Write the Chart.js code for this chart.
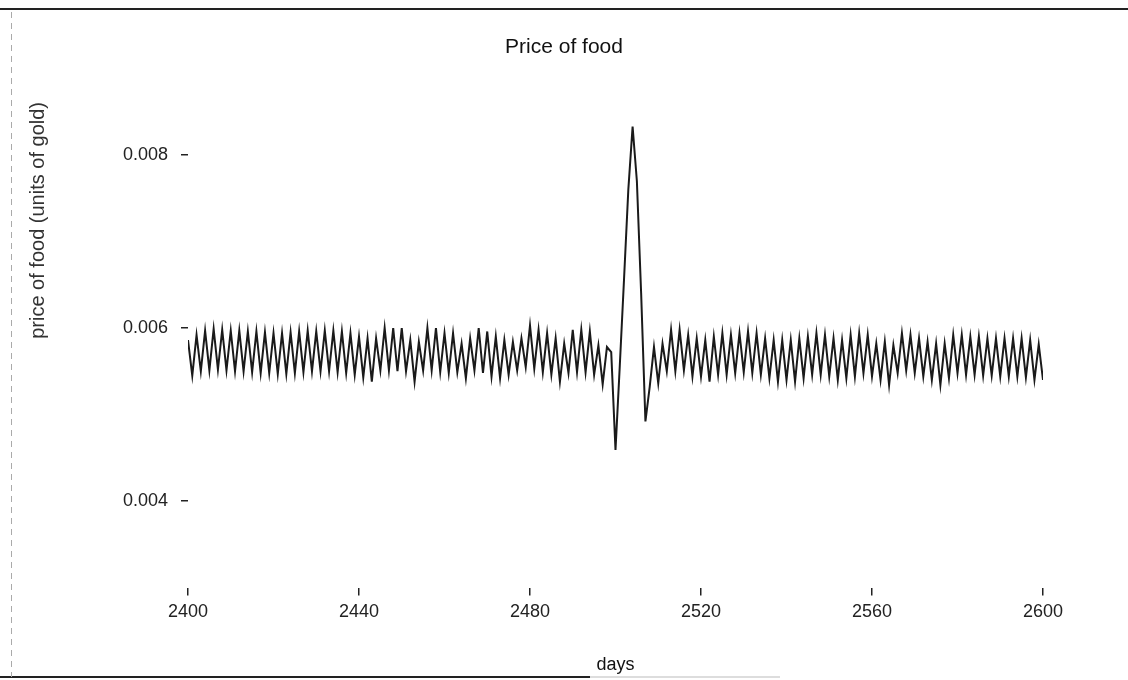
<!DOCTYPE html>
<html>
<head>
<meta charset="utf-8">
<title>Price of food</title>
<script src="https://cdn.jsdelivr.net/npm/chart.js@4.4.1/dist/chart.umd.min.js"></script>
<style>
  html, body { margin: 0; padding: 0; background: #fff; }
  #wrap { width: 1128px; height: 680px; }
</style>
</head>
<body>
<div id="wrap"><canvas id="chart" width="1128" height="680"></canvas></div>
<script>
// days 2400 .. 2499, price swings up and down every other day
const priceBefore = [
	0.00586, 0.00545, 0.00592, 0.00550, 0.00597, 0.00551, 0.00599, 0.00552, 0.00598, 0.00551,
	0.00597, 0.00550, 0.00597, 0.00550, 0.00596, 0.00549, 0.00596, 0.00548, 0.00595, 0.00548,
	0.00594, 0.00547, 0.00594, 0.00547, 0.00595, 0.00548, 0.00596, 0.00549, 0.00597, 0.00550,
	0.00596, 0.00550, 0.00597, 0.00550, 0.00597, 0.00549, 0.00596, 0.00548, 0.00594, 0.00546,
	0.00590, 0.00543, 0.00588, 0.00538, 0.00588, 0.00551, 0.00600, 0.00551, 0.00600, 0.00550,
	0.00600, 0.00550, 0.00586, 0.00538, 0.00584, 0.00551, 0.00600, 0.00551, 0.00600, 0.00549,
	0.00594, 0.00548, 0.00594, 0.00549, 0.00582, 0.00542, 0.00588, 0.00551, 0.00600, 0.00548,
	0.00596, 0.00544, 0.00590, 0.00542, 0.00586, 0.00546, 0.00584, 0.00551, 0.00588, 0.00555,
	0.00603, 0.00553, 0.00598, 0.00549, 0.00594, 0.00546, 0.00588, 0.00538, 0.00582, 0.00548,
	0.00598, 0.00549, 0.00598, 0.00549, 0.00596, 0.00546, 0.00580, 0.00535, 0.00578, 0.00572
];
// days 2500 .. 2507, the shock
const priceShock = [0.00459, 0.00556, 0.00657, 0.00760, 0.00833, 0.00770, 0.00640, 0.00492];
// days 2508 .. 2600
const priceAfter = [
	0.00532, 0.00578,
	0.00536, 0.00582, 0.00550, 0.00598, 0.00550, 0.00598, 0.00551, 0.00592, 0.00544, 0.00588,
	0.00544, 0.00586, 0.00538, 0.00590, 0.00546, 0.00594, 0.00546, 0.00592, 0.00548, 0.00594,
	0.00549, 0.00596, 0.00548, 0.00594, 0.00546, 0.00588, 0.00542, 0.00586, 0.00538, 0.00586,
	0.00540, 0.00586, 0.00538, 0.00588, 0.00542, 0.00590, 0.00546, 0.00594, 0.00546, 0.00592,
	0.00544, 0.00588, 0.00540, 0.00586, 0.00542, 0.00592, 0.00544, 0.00594, 0.00548, 0.00592,
	0.00544, 0.00582, 0.00540, 0.00584, 0.00534, 0.00580, 0.00548, 0.00594, 0.00551, 0.00592,
	0.00548, 0.00588, 0.00544, 0.00584, 0.00540, 0.00582, 0.00534, 0.00582, 0.00542, 0.00592,
	0.00548, 0.00592, 0.00546, 0.00590, 0.00546, 0.00590, 0.00545, 0.00588, 0.00545, 0.00588,
	0.00544, 0.00588, 0.00544, 0.00588, 0.00544, 0.00588, 0.00543, 0.00586, 0.00540, 0.00581,
	0.00540
];

const firstDay = 2400;
const price = priceBefore.concat( priceShock, priceAfter );
const days = price.map( ( p, i ) => firstDay + i );

const xTicks = [2400, 2440, 2480, 2520, 2560, 2600];
const yTicks = [0.004, 0.006, 0.008];

const ink = '#1a1a1a';

Chart.defaults.font.family = '"Liberation Sans", Arial, Helvetica, sans-serif';
Chart.defaults.color = ink;

// edges of the scanned sheet
const paperEdges = {
	id: 'paperEdges',
	beforeDraw( chart ) {
		const ctx = chart.ctx;
		ctx.save();
		ctx.fillStyle = '#fff';
		ctx.fillRect( 0, 0, chart.width, chart.height );
		ctx.strokeStyle = '#222';
		ctx.lineWidth = 2;
		ctx.beginPath();
		ctx.moveTo( 0, 9 );
		ctx.lineTo( chart.width, 9 );
		ctx.stroke();
		ctx.beginPath();
		ctx.moveTo( 0, 677 );
		ctx.lineTo( 590, 677 );
		ctx.stroke();
		ctx.strokeStyle = '#bbb';
		ctx.lineWidth = 1;
		ctx.beginPath();
		ctx.moveTo( 590, 677 );
		ctx.lineTo( 780, 677 );
		ctx.stroke();
		ctx.setLineDash( [6, 5] );
		ctx.strokeStyle = '#aaa';
		ctx.beginPath();
		ctx.moveTo( 11.5, 12 );
		ctx.lineTo( 11.5, 677 );
		ctx.stroke();
		ctx.restore();
	}
};

new Chart( document.getElementById( 'chart' ), {
	type: 'line',
	data: {
		datasets: [{
			label: 'price of food',
			data: days.map( ( d, i ) => ( { x: d, y: price[ i ] } ) ),
			borderColor: ink,
			borderWidth: 2,
			pointRadius: 0,
			tension: 0,
			fill: false
		}]
	},
	options: {
		responsive: false,
		animation: false,
		devicePixelRatio: 1,
		layout: { padding: 0 },
		plugins: {
			legend: { display: false },
			tooltip: { enabled: false },
			title: {
				display: true,
				text: 'Price of food',
				color: '#111',
				font: { size: 21, weight: 'normal' },
				padding: { top: 35, bottom: 41.8 }
			}
		},
		scales: {
			x: {
				type: 'linear',
				min: 2400,
				max: 2600,
				afterBuildTicks: s => { s.ticks = xTicks.map( v => ( { value: v } ) ); },
				afterFit: s => { s.height = 92.5; },
				grid: { drawOnChartArea: false, drawTicks: true, tickLength: 8, color: '#222', lineWidth: 1.5 },
				border: { display: false },
				ticks: { color: '#222', font: { size: 18 }, padding: 6, maxRotation: 0, callback: v => String( v ) },
				title: { display: true, text: 'days', color: '#111', font: { size: 18 }, padding: { top: 4, bottom: 4 } }
			},
			y: {
				min: 0.003,
				max: 0.008613,
				afterBuildTicks: s => { s.ticks = yTicks.map( v => ( { value: v } ) ); },
				afterFit: s => { s.width = 188; },
				grid: { drawOnChartArea: false, drawTicks: true, tickLength: 7, color: '#222', lineWidth: 1.5 },
				border: { display: false },
				ticks: { color: '#222', font: { size: 18 }, padding: 13, callback: v => v.toFixed( 3 ) },
				title: {
					display: true,
					text: 'price of food (units of gold)',
					align: 'end',
					color: '#333',
					font: { size: 20 },
					padding: { top: 26 }
				}
			},
			// empty margin on the right so the plot ends at day 2600 like the original
			margin: {
				position: 'right',
				display: true,
				grid: { display: false },
				border: { display: false },
				ticks: { display: false },
				afterFit: s => { s.width = 85; }
			}
		}
	},
	plugins: [paperEdges]
} );
</script>
</body>
</html>
